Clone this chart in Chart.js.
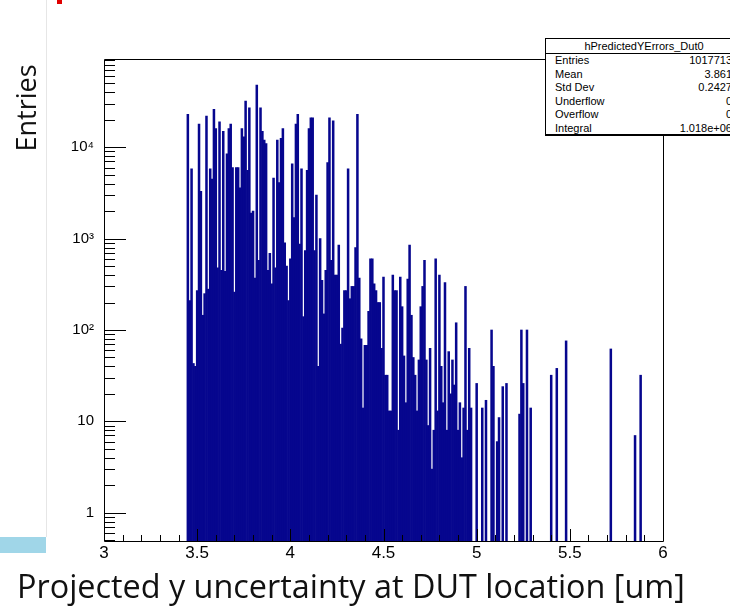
<!DOCTYPE html>
<html>
<head>
<meta charset="utf-8">
<title>hPredictedYErrors_Dut0</title>
<script src="https://cdn.jsdelivr.net/npm/chart.js@4.4.0/dist/chart.umd.min.js"></script>
<style>
    body {
        margin: 0;
        width: 730px;
        height: 607px;
        overflow: hidden;
        position: relative;
        background: #fff;
        font-family: 'Liberation Sans', Arial, sans-serif;
    }
    #histo {
        position: absolute;
        left: 0;
        top: 0;
    }
    .edge {
        position: absolute;
        left: 46px;
        top: 0;
        width: 1px;
        height: 537px;
        background: #e6e6e6;
    }
    .blueBar {
        position: absolute;
        left: 0;
        top: 537px;
        width: 46px;
        height: 16px;
        background: #a0d6e8;
    }
    .redMark {
        position: absolute;
        left: 57px;
        top: 0;
        width: 5px;
        height: 4px;
        background: #e00000;
    }
    .yTitle {
        position: absolute;
        width: 140px;
        height: 30px;
        line-height: 30px;
        left: -44px;
        top: 93px;
        text-align: center;
        font-family: 'Open Sans', sans-serif;
        font-size: 27px;
        color: #111;
        transform: rotate(-90deg);
        white-space: nowrap;
    }
    .xTitle {
        position: absolute;
        left: 17px;
        font-family: 'Open Sans', sans-serif;
        font-size: 27px;
        color: #111;
        white-space: nowrap;
    }
    .stats {
        position: absolute;
        left: 545px;
        top: 38px;
        width: 196px;
        height: 95px;
        background: #fff;
        border: 1px solid #000;
        border-bottom-width: 2px;
        font-size: 11px;
        color: #000;
    }
    .stats .head {
        height: 14px;
        line-height: 15px;
        text-align: center;
        border-bottom: 1px solid #000;
    }
    .stats .row {
        position: relative;
        height: 13.5px;
        line-height: 13.5px;
    }
    .stats .row span {
        position: absolute;
    }
    .stats .row .lab { left: 9px; }
    .stats .row .val { right: 10px; }
</style>
</head>
<body>
<canvas id="histo" width="730" height="607"></canvas>
<div class="edge"></div>
<div class="blueBar"></div>
<div class="redMark"></div>
<div class="yTitle">Entries</div>
<div class="xTitle" id="xTitle">Projected y uncertainty at DUT location [um]</div>
<div class="stats" id="stats"></div>

<script>
// histogram bins of 0.01 starting at 3.45 (dense part up to 5.00)
const binLow = 3.45;
const binWidth = 0.01;
const denseCounts = [
    23000, 210, 5800, 43, 40, 270, 18000, 3300, 145, 250,
    22000, 280, 5800, 4500, 26000, 16000, 480, 19000, 450, 15000,
    440, 8500, 16000, 18000, 6000, 260, 6000, 6000, 3600, 16000,
    13000, 32000, 5600, 27000, 1900, 2000, 370, 48000, 580, 27000,
    15000, 12000, 11000, 450, 690, 320, 4600, 480, 12000, 4100,
    12500, 16000, 900, 500, 210, 600, 6600, 1700, 18000, 23000,
    870, 5800, 140, 740, 5600, 16000, 21000, 21000, 740, 3000,
    40, 1000, 350, 150, 450, 6800, 21000, 580, 19500, 400,
    400, 850, 70, 105, 270, 270, 5800, 220, 300, 300,
    800, 23000, 370, 80, 14, 68, 68, 160, 600, 600,
    320, 270, 200, 200, 63, 380, 32, 32, 13, 13,
    400, 270, 270, 8, 380, 180, 52, 16, 360, 850,
    145, 50, 32, 13, 47, 180, 300, 580, 47, 9,
    63, 3, 8, 600, 13, 400, 40, 16, 330, 8,
    58, 20, 47, 25, 120, 8, 16, 4, 14, 300,
    8, 63, 14, null, null, 26
];

// isolated entries above 5.0
const tailX = [5.03, 5.05, 5.08, 5.09, 5.11, 5.12, 5.14, 5.16, 5.23, 5.24, 5.25, 5.27, 5.29, 5.40, 5.43, 5.48, 5.72, 5.85, 5.88];
const tailCounts = [14, 17, 100, 40, 6, 11, 24, 26, 12, 100, 26, 100, 14, 32, 38, 76, 62, 7, 32];

const xTickValues = [3, 3.5, 4, 4.5, 5, 5.5, 6];
const xTickLabels = ['3', '3.5', '4', '4.5', '5', '5.5', '6'];
const yTickValues = [1, 10, 100, 1000, 10000];
const yTickLabels = ['1', '10', '10\u00B2', '10\u00B3', '10\u2074'];

const statsTitle = 'hPredictedYErrors_Dut0';
const statsLabels = ['Entries', 'Mean', 'Std Dev', 'Underflow', 'Overflow', 'Integral'];
const statsValues = ['1017713', '3.861', '0.2427', '0', '0', '1.018e+06'];

const points = [];
denseCounts.forEach(function (c, i) {
    if (c !== null) {
        points.push({ x: +(binLow + i * binWidth).toFixed(2), y: c });
    }
});
tailX.forEach(function (x, i) {
    points.push({ x: x, y: tailCounts[i] });
});

const insideTicks = {
    id: 'insideTicks',
    afterDatasetsDraw(chart) {
        const ctx = chart.ctx;
        const a = chart.chartArea;
        const xs = chart.scales.x;
        const ys = chart.scales.y;
        ctx.save();
        ctx.strokeStyle = '#000';
        ctx.lineWidth = 1;
        ctx.beginPath();

        // frame
        ctx.moveTo(a.left + 0.5, a.top + 0.5);
        ctx.lineTo(a.right + 0.5, a.top + 0.5);
        ctx.lineTo(a.right + 0.5, a.bottom + 0.5);
        ctx.lineTo(a.left + 0.5, a.bottom + 0.5);
        ctx.closePath();

        // y ticks
        for (let d = -1; d <= 4; d++) {
            for (let m = 1; m <= 9; m++) {
                const v = m * Math.pow(10, d);
                if (v < ys.min || v > ys.max) continue;
                const py = Math.round(ys.getPixelForValue(v)) + 0.5;
                ctx.moveTo(a.left, py);
                ctx.lineTo(a.left + (m === 1 ? 22 : 11), py);
            }
        }

        // x ticks
        for (let i = 0; i <= 30; i++) {
            const px = Math.round(xs.getPixelForValue(3 + i * 0.1)) + 0.5;
            ctx.moveTo(px, a.bottom);
            ctx.lineTo(px, a.bottom - (i % 5 === 0 ? 12 : 6));
        }
        ctx.stroke();
        ctx.restore();
    }
};

const ctx = document.getElementById('histo');

new Chart(ctx, {
    type: 'bar',
    data: {
        datasets: [{
            label: statsTitle,
            data: points,
            backgroundColor: '#06068e',
            borderWidth: 0,
            barPercentage: 1,
            categoryPercentage: 1
        }]
    },
    options: {
        responsive: false,
        animation: false,
        devicePixelRatio: 1,
        layout: {
            padding: { top: 59, right: 67, left: 0, bottom: 0 }
        },
        plugins: {
            legend: { display: false },
            tooltip: { enabled: false }
        },
        scales: {
            x: {
                type: 'linear',
                min: 3,
                max: 6,
                offset: false,
                grid: { display: false, drawTicks: false },
                border: { display: false },
                afterBuildTicks: function (s) {
                    s.ticks = xTickValues.map(v => ({ value: v }));
                },
                afterFit: function (s) {
                    s.height = 66;
                },
                ticks: {
                    autoSkip: false,
                    maxRotation: 0,
                    padding: 2,
                    color: '#000',
                    font: { family: 'Liberation Sans', size: 17 },
                    callback: (v, i) => xTickLabels[i]
                }
            },
            y: {
                type: 'logarithmic',
                min: 0.49,
                max: 92600,
                grid: { display: false, drawTicks: false },
                border: { display: false },
                afterBuildTicks: function (s) {
                    s.ticks = yTickValues.map(v => ({ value: v }));
                },
                afterFit: function (s) {
                    s.width = 104;
                },
                ticks: {
                    autoSkip: false,
                    padding: 10,
                    color: '#000',
                    font: { family: 'Liberation Sans', size: 15 },
                    callback: (v, i) => yTickLabels[i]
                }
            }
        }
    },
    plugins: [insideTicks]
});

// stats box
const stats = document.getElementById('stats');
let html = '<div class="head">' + statsTitle + '</div>';
statsLabels.forEach(function (l, i) {
    html += '<div class="row"><span class="lab">' + l + '</span><span class="val">' + statsValues[i] + '</span></div>';
});
stats.innerHTML = html;

// x title: fit width and put baseline at y=598
const xt = document.getElementById('xTitle');
const fs = 27 * 668 / xt.offsetWidth;
xt.style.fontSize = fs + 'px';
xt.style.lineHeight = fs + 'px';
xt.style.top = (598 - 0.888 * fs) + 'px';
</script>
</body>
</html>
